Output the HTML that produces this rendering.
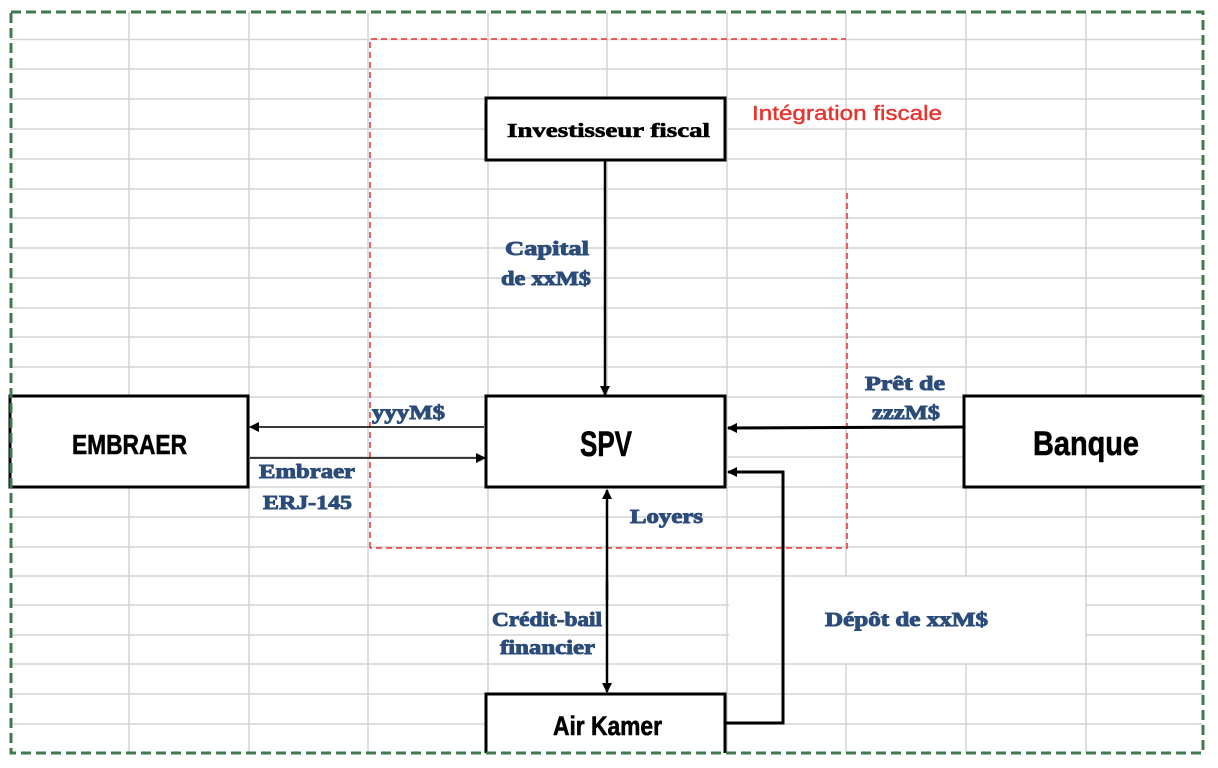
<!DOCTYPE html>
<html><head><meta charset="utf-8"><style>
html,body{margin:0;padding:0;background:#fff;}
svg{display:block;}
.n{font-family:"Liberation Sans",sans-serif;font-weight:bold;fill:#000;stroke:#000;stroke-width:0.6;}
.l{font-family:"Liberation Serif",serif;font-weight:bold;fill:#2b4c7a;stroke:#2b4c7a;stroke-width:0.9;font-size:20px;}
</style></head><body>
<svg width="1218" height="768" viewBox="0 0 1218 768" xmlns="http://www.w3.org/2000/svg">
<defs>
<marker id="a" markerWidth="10" markerHeight="10" refX="9" refY="5" orient="auto" markerUnits="userSpaceOnUse"><path d="M0,0 L10,5 L0,10 z" fill="#000"/></marker>
</defs>
<g stroke="#d4d4d4" stroke-width="1.5">
<line x1="129" y1="12" x2="129" y2="753"/>
<line x1="249" y1="12" x2="249" y2="753"/>
<line x1="368" y1="12" x2="368" y2="753"/>
<line x1="488" y1="12" x2="488" y2="753"/>
<line x1="607" y1="12" x2="607" y2="753"/>
<line x1="727" y1="12" x2="727" y2="753"/>
<line x1="846" y1="12" x2="846" y2="576"/>
<line x1="846" y1="664" x2="846" y2="753"/>
<line x1="966" y1="12" x2="966" y2="576"/>
<line x1="966" y1="664" x2="966" y2="753"/>
<line x1="1086" y1="12" x2="1086" y2="753"/>
</g>
<g stroke="#d4d4d4" stroke-width="1.5">
<line x1="10" y1="39.5" x2="1203" y2="39.5"/>
<line x1="10" y1="69" x2="1203" y2="69"/>
<line x1="10" y1="99" x2="1203" y2="99"/>
<line x1="10" y1="129" x2="1203" y2="129"/>
<line x1="10" y1="159" x2="1203" y2="159"/>
<line x1="10" y1="189" x2="1203" y2="189"/>
<line x1="10" y1="218" x2="1203" y2="218"/>
<line x1="10" y1="248" x2="1203" y2="248"/>
<line x1="10" y1="278" x2="1203" y2="278"/>
<line x1="10" y1="308" x2="1203" y2="308"/>
<line x1="10" y1="337" x2="1203" y2="337"/>
<line x1="10" y1="367" x2="1203" y2="367"/>
<line x1="10" y1="397" x2="1203" y2="397"/>
<line x1="10" y1="427" x2="1203" y2="427"/>
<line x1="10" y1="457" x2="1203" y2="457"/>
<line x1="10" y1="487" x2="1203" y2="487"/>
<line x1="10" y1="517" x2="1203" y2="517"/>
<line x1="10" y1="547" x2="1203" y2="547"/>
<line x1="10" y1="576" x2="1203" y2="576"/>
<line x1="10" y1="605" x2="729" y2="605"/>
<line x1="1086" y1="605" x2="1203" y2="605"/>
<line x1="10" y1="635" x2="729" y2="635"/>
<line x1="1086" y1="635" x2="1203" y2="635"/>
<line x1="10" y1="664" x2="1203" y2="664"/>
<line x1="10" y1="694" x2="1203" y2="694"/>
<line x1="10" y1="724" x2="1203" y2="724"/>
</g>
<rect x="729" y="577" width="356" height="86" fill="#fff"/>
<path d="M370,548 L370,39 L846,39 M847,193 L847,548 L370,548" fill="none" stroke="#e8322e" stroke-width="1.5" stroke-dasharray="6,4"/>
<g fill="#fff" stroke="#000" stroke-width="3">
<rect x="486" y="98" width="239" height="62"/>
<rect x="486" y="396" width="239" height="91"/>
<rect x="10" y="396" width="238" height="91"/>
<path d="M1203,396 L964,396 L964,487 L1203,487"/>
<path d="M486,753 L486,694 L725,694 L725,753"/>
</g>
<g stroke="#000" fill="none">
<line x1="605" y1="160" x2="605" y2="395" stroke-width="2.5" marker-end="url(#a)"/>
<line x1="484" y1="427" x2="250" y2="427" stroke-width="1.5" marker-end="url(#a)"/>
<line x1="250" y1="458" x2="485" y2="458" stroke-width="1.5" marker-end="url(#a)"/>
<line x1="963" y1="427" x2="728" y2="428" stroke-width="3" marker-end="url(#a)"/>
<line x1="607" y1="600" x2="607" y2="490" stroke-width="2.5" marker-end="url(#a)"/>
<line x1="607" y1="580" x2="607" y2="692" stroke-width="2.5" marker-end="url(#a)"/>
<path d="M726,723 L783,723 L783,472 L728,472" stroke-width="3" marker-end="url(#a)"/>
</g>
<rect x="11" y="12" width="1192" height="741" fill="none" stroke="#3e7a4e" stroke-width="3" stroke-dasharray="10,5"/>
<text class="n" x="507" y="137" font-size="20" textLength="203" lengthAdjust="spacingAndGlyphs" style="font-family:'Liberation Serif',serif">Investisseur fiscal</text>
<text class="n" x="580" y="456" font-size="35" textLength="52" lengthAdjust="spacingAndGlyphs">SPV</text>
<text class="n" x="72" y="454" font-size="28" textLength="115" lengthAdjust="spacingAndGlyphs">EMBRAER</text>
<text class="n" x="1033" y="455" font-size="34" textLength="106" lengthAdjust="spacingAndGlyphs">Banque</text>
<text class="n" x="553" y="735" font-size="27" textLength="109" lengthAdjust="spacingAndGlyphs">Air Kamer</text>
<text x="752" y="120" font-family="Liberation Sans,sans-serif" font-size="20" fill="#e8322e" stroke="#e8322e" stroke-width="0.4" textLength="190" lengthAdjust="spacingAndGlyphs">Intégration fiscale</text>
<text class="l" x="505" y="255" textLength="84" lengthAdjust="spacingAndGlyphs">Capital</text>
<text class="l" x="501" y="285" textLength="90" lengthAdjust="spacingAndGlyphs">de xxM$</text>
<text class="l" x="372" y="419" textLength="73" lengthAdjust="spacingAndGlyphs">yyyM$</text>
<text class="l" x="259" y="478" textLength="96" lengthAdjust="spacingAndGlyphs">Embraer</text>
<text class="l" x="263" y="509" textLength="89" lengthAdjust="spacingAndGlyphs">ERJ-145</text>
<text class="l" x="865" y="390" textLength="80" lengthAdjust="spacingAndGlyphs">Prêt de</text>
<text class="l" x="872" y="419" textLength="68" lengthAdjust="spacingAndGlyphs">zzzM$</text>
<text class="l" x="630" y="523" textLength="73" lengthAdjust="spacingAndGlyphs">Loyers</text>
<text class="l" x="492" y="626" textLength="110" lengthAdjust="spacingAndGlyphs">Crédit-bail</text>
<text class="l" x="500" y="654" textLength="95" lengthAdjust="spacingAndGlyphs">financier</text>
<text class="l" x="825" y="626" textLength="163" lengthAdjust="spacingAndGlyphs">Dépôt de xxM$</text>
</svg>
</body></html>
